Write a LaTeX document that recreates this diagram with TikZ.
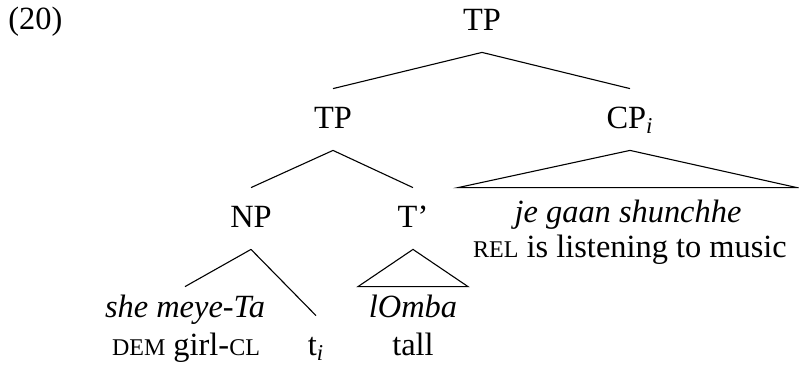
\documentclass[tikz,border=0pt]{standalone}
\usepackage{fontspec}
\setmainfont{Liberation Serif}
\usetikzlibrary{calc}
% glossing abbreviations in small capitals (scaled capitals)
\newcommand\glsc[1]{{\fontsize{12pt}{12pt}\selectfont #1}}

\begin{document}
\begin{tikzpicture}[x=0.5pt,y=-0.5pt,
  every node/.style={font=\fontsize{16.2pt}{19pt}\selectfont, inner sep=0pt},
  cat/.style={anchor=base, text height=19.5pt, text depth=11pt},
  word/.style={anchor=base, text height=15pt, text depth=3pt},
  gloss/.style={anchor=base},
  branch/.style={line width=0.55pt}]
\useasboundingbox (0,0) rectangle (799,365);

% example number
\node[anchor=base west] (ex) at (8,29) {(20)};

% categories
\node[cat] (tp0) at (482,30) {TP};
\node[cat] (tp1) at (333,128) {TP};
\node[cat] (cp) at (630,128) {CP\textsubscript{\textit{i}}};
\node[cat] (np) at (251,227) {NP};
\node[cat] (tbar) at (413,227) {T'};
\node[cat] (trace) at (316,355) {t\textsubscript{\textit{i}}};

% terminal strings and glosses
\node[word] (w1) at (185,317) {\textit{she meye-Ta}};
\node[gloss] (g1) at (186,355) {\glsc{DEM} girl-\glsc{CL}};
\node[word] (w2) at (413,317) {\textit{lOmba}};
\node[gloss] (g2) at (413,355) {tall};
\node[word, text height=17pt] (w3) at (628,222) {\textit{je gaan shunchhe}};
\node[gloss] (g3) at (630,257) {\glsc{REL} is listening to music};

% triangle base corners
\coordinate (w2-l) at ($(w2.north)+(-55,0)$);
\coordinate (w2-r) at ($(w2.north)+(55,0)$);
\coordinate (w3-l) at ($(w3.north)+(-170,0)$);
\coordinate (w3-r) at ($(w3.north)+(169,0)$);

% branches
\draw[branch] (tp0.south) -- (tp1.north);
\draw[branch] (tp0.south) -- (cp.north);
\draw[branch] (tp1.south) -- (np.north);
\draw[branch] (tp1.south) -- (tbar.north);
\draw[branch] (np.south) -- (w1.north);
\draw[branch] (np.south) -- (trace.north);
\draw[branch] (tbar.south) -- (w2-l) -- (w2-r) -- cycle;
\draw[branch] (cp.south) -- (w3-l) -- (w3-r) -- cycle;
\end{tikzpicture}
\end{document}
